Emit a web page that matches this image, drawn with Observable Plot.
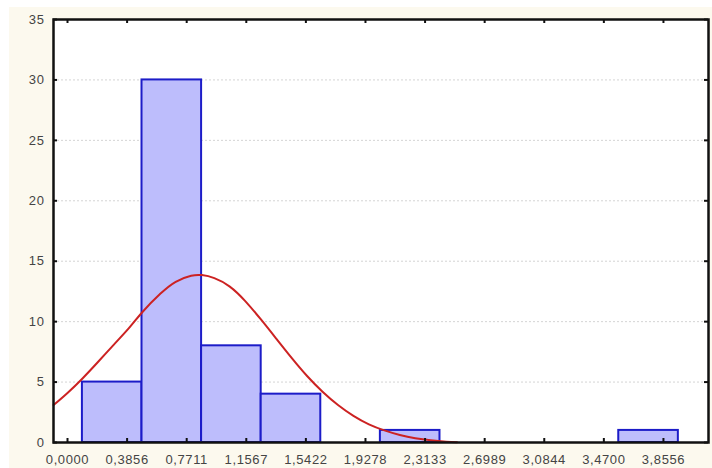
<!DOCTYPE html>
<html>
<head>
<meta charset="utf-8">
<script src="https://cdn.jsdelivr.net/npm/d3@7"></script>
<script src="https://cdn.jsdelivr.net/npm/@observablehq/plot@0.6"></script>
<style>
  html, body { margin: 0; padding: 0; background: #ffffff; }
  #chart { position: absolute; left: 9px; top: 7px; width: 703px; height: 461px; background: #fcf9ee; }
  #chart svg { display: block; }
  #chart svg text { letter-spacing: 0.6px; }
</style>
</head>
<body>
<div id="chart"></div>
<script>
// Histogram bins (lower/upper edges) and observed counts
const binLow  = [0.0964, 0.4820, 0.8675, 1.2531, 1.6386, 2.0242, 2.4098, 2.7953, 3.1809, 3.5664];
const binHigh = [0.4820, 0.8675, 1.2531, 1.6386, 2.0242, 2.4098, 2.7953, 3.1809, 3.5664, 3.9520];
const counts  = [5, 30, 8, 4, 0, 1, 0, 0, 0, 1];

// Expected-normal curve, points
const curveX = [-0.09, 0.0, 0.097, 0.2, 0.3, 0.4, 0.485, 0.6, 0.7, 0.8, 0.87, 0.95, 1.05, 1.15, 1.25, 1.35, 1.45, 1.55, 1.65, 1.75, 1.85, 1.95, 2.05, 2.15, 2.25, 2.35, 2.45, 2.52];
const curveY = [3.1, 4.1, 5.3, 6.7, 8.1, 9.5, 10.8, 12.3, 13.3, 13.8, 13.85, 13.6, 12.9, 11.7, 10.2, 8.6, 7.0, 5.5, 4.2, 3.1, 2.2, 1.5, 1.0, 0.62, 0.35, 0.18, 0.07, 0.02];

// Axis ticks
const xTickValues = [0, 0.38556, 0.77111, 1.15667, 1.54222, 1.92778, 2.31333, 2.69889, 3.08444, 3.47, 3.85556];
const xTickLabels = ["0,0000", "0,3856", "0,7711", "1,1567", "1,5422", "1,9278", "2,3133", "2,6989", "3,0844", "3,4700", "3,8556"];
const yTickValues = [0, 5, 10, 15, 20, 25, 30, 35];
const yGridValues = [5, 10, 15, 20, 25, 30];

const bins = counts.map((c, i) => ({x1: binLow[i], x2: binHigh[i], y: c})).filter(d => d.y > 0);
const curve = curveX.map((x, i) => ({x, y: curveY[i]}));

const W = 703, H = 461;
const mL = 44, mR = 4, mT = 12, mB = 26;
const pw = W - mL - mR, ph = H - mT - mB;
const tickLen = 4;

const chart = Plot.plot({
  width: W,
  height: H,
  marginLeft: mL,
  marginRight: mR,
  marginTop: mT,
  marginBottom: mB,
  style: {background: "transparent", fontFamily: "Liberation Sans, Arial, sans-serif", fontSize: "13px", color: "#444"},
  x: {domain: [-0.0906, 4.147]},
  y: {domain: [0, 35]},
  marks: [
    Plot.frame({fill: "white", stroke: "none"}),
    Plot.gridY(yGridValues, {stroke: "#d4d4d4", strokeOpacity: 1, strokeDasharray: "2,2"}),
    Plot.rectY(bins, {x1: "x1", x2: "x2", y: "y", fill: "#bdbdfc", stroke: "#1c1cc8", strokeWidth: 2}),
    Plot.line(curve, {x: "x", y: "y", curve: "natural", stroke: "#cc2222", strokeWidth: 2}),
    // inward ticks
    Plot.tickX(xTickValues, {x: d => d, insetTop: ph - tickLen, stroke: "#111", strokeWidth: 2}),
    Plot.tickX(xTickValues, {x: d => d, insetBottom: ph - tickLen, stroke: "#111", strokeWidth: 2}),
    Plot.tickY(yTickValues, {y: d => d, insetRight: pw - tickLen, stroke: "#111", strokeWidth: 2}),
    Plot.tickY(yTickValues, {y: d => d, insetLeft: pw - tickLen, stroke: "#111", strokeWidth: 2}),
    Plot.axisX(xTickValues, {tickSize: 0, tickPadding: 12, tickFormat: (d, i) => xTickLabels[i], fill: "#444", label: null}),
    Plot.axisY(yTickValues, {tickSize: 0, tickPadding: 9, tickFormat: d => String(d), fill: "#444", label: null}),
    Plot.frame({stroke: "#111", strokeWidth: 2.5})
  ]
});
document.getElementById("chart").appendChild(chart);
</script>
</body>
</html>
